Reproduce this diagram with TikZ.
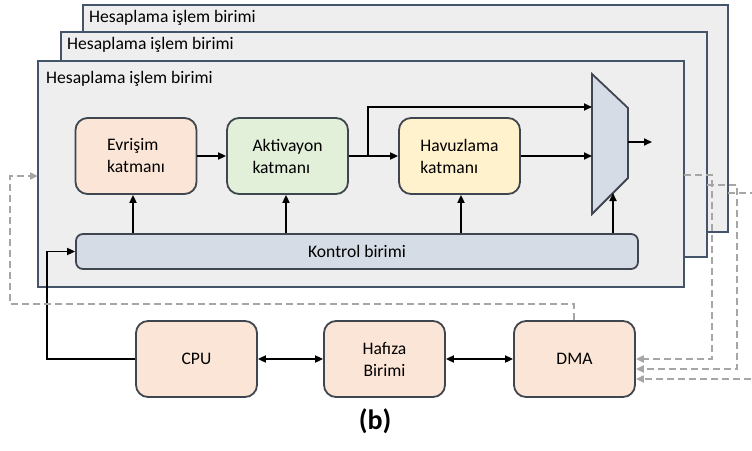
\documentclass[tikz,border=0pt]{standalone}
\usepackage{fontspec}
\setmainfont{Carlito}
\usetikzlibrary{arrows.meta,calc}

\definecolor{framefill}{HTML}{EEEEEE}
\definecolor{framedraw}{HTML}{44546A}
\definecolor{boxdraw}{HTML}{3F4650}
\definecolor{peach}{HTML}{FBE5D6}
\definecolor{mint}{HTML}{E2F0D9}
\definecolor{cream}{HTML}{FFF2CC}
\definecolor{steel}{HTML}{D6DCE5}
\definecolor{dashgray}{HTML}{A6A6A6}

\tikzset{
  unitframe/.style={draw=framedraw, fill=framefill, line width=1.8pt,
    rectangle, inner sep=0pt, outer sep=0pt},
  unittitle/.style={anchor=base west, inner sep=0pt,
    font=\fontsize{17.6}{20}\selectfont},
  layerbox/.style={draw=boxdraw, line width=1.8pt, rounded corners=12pt,
    minimum width=121pt, minimum height=76pt, align=left, inner sep=0pt,
    font=\fontsize{17.6}{22}\selectfont},
  ctrlbox/.style={draw=boxdraw, fill=steel, line width=1.8pt,
    rounded corners=7pt, minimum width=562pt, minimum height=35pt,
    inner sep=0pt, font=\fontsize{17.6}{22}\selectfont},
  hostbox/.style={layerbox, fill=peach, align=center},
  flow/.style={-{Triangle[length=8pt,width=7pt]}, line width=1.8pt, black},
  bothflow/.style={{Triangle[length=8pt,width=7pt]}-{Triangle[length=8pt,width=7pt]},
    line width=1.8pt, black},
  dmaflow/.style={-{Triangle[length=8pt,width=7pt]}, dashgray,
    line width=2pt, dash pattern=on 7pt off 4pt},
}

\begin{document}
\begin{tikzpicture}[x=1pt,y=-1pt]
\useasboundingbox (0,0) rectangle (752,450);
\clip (0,0) rectangle (752,450);

% stacked processing units, back to front
\node[unitframe, minimum width=645pt, minimum height=227pt] (f3) at (405.5,118.5) {};
\node[unittitle] at (89,22) {Hesaplama işlem birimi};
\node[unitframe, minimum width=646pt, minimum height=225pt] (f2) at (384,144.5) {};
\node[unittitle] at (67,49) {Hesaplama işlem birimi};
\node[unitframe, minimum width=646pt, minimum height=226pt] (f1) at (361,174) {};
\node[unittitle] at (46,83) {Hesaplama işlem birimi};

% layers of the front unit
\node[layerbox, fill=peach] (ev) at (136,156) {Evrişim\\katmanı};
\node[layerbox, fill=mint]  (ak) at (287.5,156) {Aktivayon\\katmanı};
\node[layerbox, fill=cream] (hv) at (459.5,156) {Havuzlama\\katmanı};
\node[ctrlbox] (kt) at (357,251.5) {Kontrol birimi};

% output multiplexer
\coordinate (mtl) at (592,74);
\coordinate (mtr) at (628,108);
\coordinate (mbr) at (628,178);
\coordinate (mbl) at (592,214);
\draw[draw=boxdraw, fill=steel, line width=1.8pt, line join=miter]
  (mtl) -- (mtr) -- (mbr) -- (mbl) -- cycle;
\coordinate (mout) at (628,142);
\coordinate (mend) at (652,142);
\coordinate (min1) at (592,107);
\coordinate (min2) at (592,156);
\coordinate (mctl) at (613,193);

% data path
\coordinate (br) at (368,156);
\draw[flow] (ev) -- (ak);
\draw[flow] (ak) -- (hv);
\draw[flow] (br) |- (min1);
\draw[flow] (hv) -- (min2);
\draw[flow] (mout) -- (mend);

% control signals
\draw[flow] (kt.north -| ev.south) ++(-3,0) coordinate (c1) -- (c1 |- ev.south);
\draw[flow] (kt.north -| ak.south) ++(-1.5,0) coordinate (c2) -- (c2 |- ak.south);
\draw[flow] (kt.north -| hv.south) ++(1.5,0) coordinate (c3) -- (c3 |- hv.south);
\draw[flow] (kt.north -| mctl) -- (mctl);

% host side
\node[hostbox] (cpu) at (196.5,359) {CPU};
\node[hostbox] (mem) at (384.5,359) {Hafıza\\Birimi};
\node[hostbox] (dma) at (574.5,359) {DMA};

\coordinate (cpul) at (47,359);
\draw[flow] (cpu.west) -- (cpul) |- (kt.west);
\draw[bothflow] (cpu) -- (mem);
\draw[bothflow] (mem) -- (dma);

% DMA transfers
\coordinate (d0a) at (574,304);
\coordinate (d0b) at (10,304);
\coordinate (d0c) at (10,176);
\draw[dmaflow] (dma.north -| d0a) -- (d0a) -- (d0b) -- (d0c) -- (d0c -| f1.west);

\coordinate (d1a) at (712,175);
\coordinate (d1b) at (712,359);
\draw[dmaflow] (d1a -| f1.east) -- (d1a) -- (d1b) -- (d1b -| dma.east);

\coordinate (d2a) at (737,185);
\coordinate (d2b) at (737,369);
\draw[dmaflow] (d2a -| f2.east) -- (d2a) -- (d2b) -- (d2b -| dma.east);

\coordinate (d3a) at (762,193);
\coordinate (d3b) at (762,379);
\draw[dmaflow] (d3a -| f3.east) -- (d3a) -- (d3b) -- (d3b -| dma.east);

\node[font=\bfseries\fontsize{28}{32}\selectfont] (cap) at (375,421) {(b)};
\end{tikzpicture}
\end{document}
